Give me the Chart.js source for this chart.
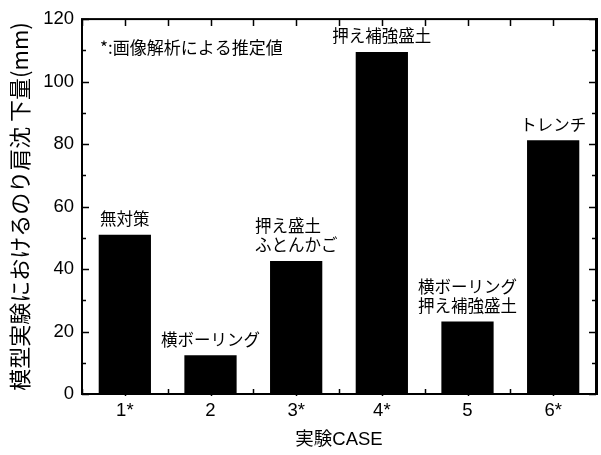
<!DOCTYPE html>
<html>
<head>
<meta charset="utf-8">
<script src="https://cdn.jsdelivr.net/npm/chart.js@4/dist/chart.umd.min.js"></script>
<style>
  html, body { margin: 0; padding: 0; background: #fff; }
  #wrap { width: 601px; height: 455px; }
</style>
</head>
<body>
<div id="wrap"><canvas id="c" width="601" height="455"></canvas></div>
<script>
// Experiment cases and measured crest settlement (mm)
const caseLabels = ['1*', '2', '3*', '4*', '5', '6*'];
const settlement = [51.0, 12.4, 42.6, 109.5, 23.2, 81.2];
// Countermeasure names shown above each bar
const measureNames = [
  ['無対策'],
  ['横ボーリング'],
  ['押え盛土', 'ふとんかご'],
  ['押え補強盛土'],
  ['横ボーリング', '押え補強盛土'],
  ['トレンチ']
];
const yMin = 0, yMax = 120, yStep = 20, yMinorStep = 10;
const noteText = '*:画像解析による推定値';
const xTitle = '実験CASE';
const yTitle = '模型実験におけるのり肩沈 下量(mm)';

const latin = '"Liberation Sans", Arial, "Noto Sans CJK JP", sans-serif';
const jp = '"Noto Sans CJK JP", "Liberation Sans", sans-serif';

// Frame, inward tick marks, bar captions and the note
const decorations = {
  id: 'decorations',
  afterDatasetsDraw(chart) {
    const { ctx, chartArea: a, scales } = chart;
    const x = scales.x, y = scales.y;
    ctx.save();
    ctx.strokeStyle = '#000';
    ctx.lineWidth = 1.5;
    ctx.beginPath();
    // y ticks (left and right, inward)
    for (let v = yMin; v <= yMax; v += yMinorStep) {
      const py = Math.round(y.getPixelForValue(v)) + 0.5;
      const len = (v % yStep === 0) ? 7 : 4;
      ctx.moveTo(a.left, py); ctx.lineTo(a.left + len, py);
      ctx.moveTo(a.right, py); ctx.lineTo(a.right - len, py);
    }
    // top ticks at every half category, bottom ticks between categories
    for (let i = -0.5; i <= caseLabels.length - 0.5; i += 0.5) {
      const px = Math.round(x.getPixelForValue(i)) + 0.5;
      ctx.moveTo(px, a.top); ctx.lineTo(px, a.top + 7);
      if (!Number.isInteger(i)) {
        ctx.moveTo(px, a.bottom); ctx.lineTo(px, a.bottom - 5);
      } else {
        ctx.moveTo(px, a.bottom); ctx.lineTo(px, a.bottom + 2);
      }
    }
    ctx.stroke();
    // frame
    ctx.lineWidth = 2;
    ctx.strokeRect(a.left, a.top, a.right - a.left, a.bottom - a.top);
    ctx.lineWidth = 3;
    ctx.beginPath();
    ctx.moveTo(a.right + 0.5, a.top - 1); ctx.lineTo(a.right + 0.5, a.bottom + 1);
    ctx.stroke();

    // captions above bars
    ctx.fillStyle = '#000';
    ctx.font = '16.5px ' + jp;
    ctx.textBaseline = 'middle';
    ctx.textAlign = 'left';
    const meta = chart.getDatasetMeta(0);
    meta.data.forEach((bar, i) => {
      const lines = measureNames[i];
      const w = Math.max(...lines.map(s => ctx.measureText(s).width));
      const left = bar.x - w / 2;
      const lineH = 19;
      lines.forEach((s, k) => {
        const cy = bar.y - 16 - (lines.length - 1 - k) * lineH;
        ctx.fillText(s, left, cy);
      });
    });

    // note at the upper left
    ctx.font = '17px ' + jp;
    ctx.fillText(noteText, a.left + 18, y.getPixelForValue(111));
    ctx.restore();
  }
};

new Chart(document.getElementById('c'), {
  type: 'bar',
  data: {
    labels: caseLabels,
    datasets: [{
      data: settlement,
      backgroundColor: '#000',
      borderWidth: 0,
      categoryPercentage: 1,
      barPercentage: 0.61
    }]
  },
  options: {
    responsive: false,
    animation: false,
    events: [],
    layout: { padding: { left: 0, right: 5, top: 17, bottom: 0 } },
    plugins: { legend: { display: false }, tooltip: { enabled: false } },
    scales: {
      x: {
        type: 'category',
        offset: true,
        grid: { display: false, drawTicks: false },
        border: { display: false },
        ticks: { color: '#000', font: { family: latin, size: 18.5 }, padding: 6 },
        title: {
          display: true, text: xTitle, color: '#000',
          font: { family: latin, size: 18.5 }, padding: { top: 0, bottom: 4 }
        },
        afterFit(s) { s.height = 61; }
      },
      y: {
        min: yMin, max: yMax,
        grid: { display: false, drawTicks: false },
        border: { display: false },
        ticks: { stepSize: yStep, color: '#000', font: { family: latin, size: 18.5 }, padding: 8 },
        title: {
          display: true, text: yTitle, color: '#000',
          font: { family: jp, size: 22 }, padding: { top: 6, bottom: 0 }
        },
        afterFit(s) { s.width = 82; }
      }
    }
  },
  plugins: [decorations]
});
</script>
</body>
</html>
